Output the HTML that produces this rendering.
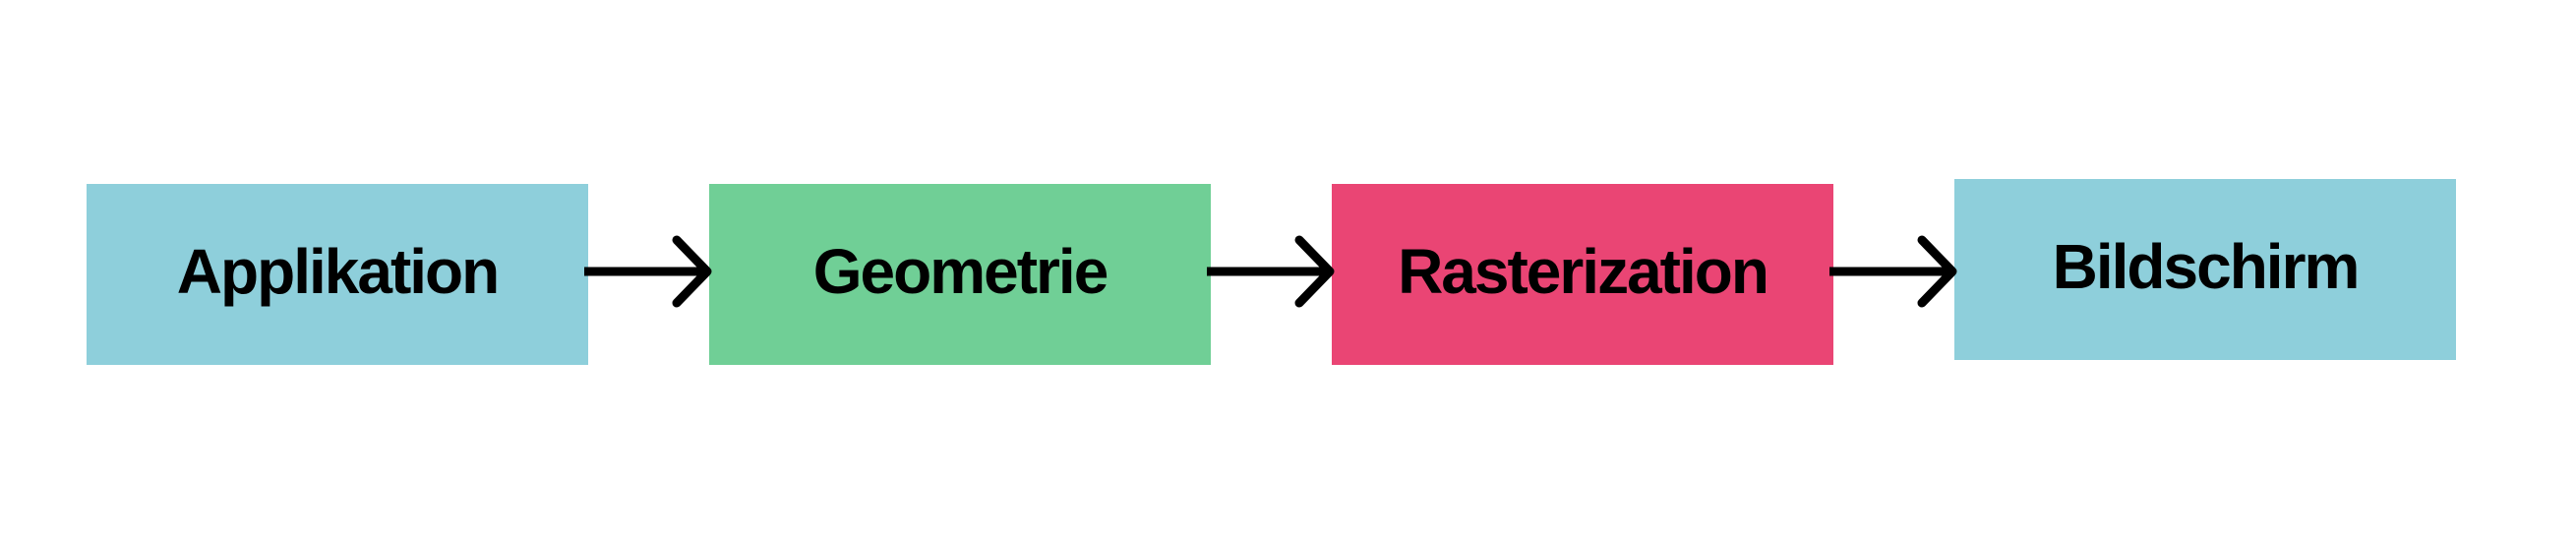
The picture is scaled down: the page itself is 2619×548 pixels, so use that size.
<!DOCTYPE html>
<html><head><meta charset="utf-8"><style>
html,body{margin:0;padding:0;background:#fff;width:2619px;height:548px;overflow:hidden}
</style></head><body>
<svg width="2619" height="548" viewBox="0 0 2619 548" xmlns="http://www.w3.org/2000/svg">
<rect x="88" y="187" width="510" height="184" fill="#8ECFDB"/>
<rect x="721" y="187" width="510" height="184" fill="#70CF96"/>
<rect x="1354" y="187" width="510" height="184" fill="#EA4574"/>
<rect x="1987" y="182" width="510" height="184" fill="#8ECFDB"/>
<g stroke="#000" stroke-width="9" fill="none" stroke-linecap="round" stroke-linejoin="round">
<line x1="594" y1="276" x2="718" y2="276" stroke-linecap="butt"/>
<polyline points="688,244 719,276 688,308"/>
<line x1="1227" y1="276" x2="1351" y2="276" stroke-linecap="butt"/>
<polyline points="1321,244 1352,276 1321,308"/>
<line x1="1860" y1="276" x2="1984" y2="276" stroke-linecap="butt"/>
<polyline points="1954,244 1985,276 1954,308"/>
</g>
<g font-family="Liberation Sans, sans-serif" font-weight="bold" font-size="64" text-anchor="middle" fill="#000" letter-spacing="-2">
<text x="343" y="298">Applikation</text>
<text x="976" y="298">Geometrie</text>
<text x="1609" y="298">Rasterization</text>
<text x="2242" y="293">Bildschirm</text>
</g>
</svg>
</body></html>
